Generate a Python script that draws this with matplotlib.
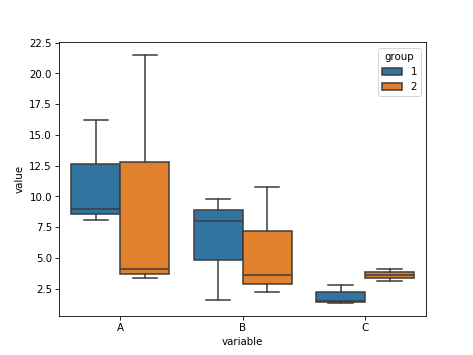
import matplotlib
matplotlib.use("Agg")
import matplotlib.pyplot as plt
from matplotlib.patches import Patch

categories = ["A", "B", "C"]
groups = ["1", "2"]

# box statistics per group, per category (A, B, C)
g1_whislo = [8.1, 1.6, 1.3]
g1_q1 = [8.55, 4.85, 1.42]
g1_med = [9.0, 8.0, 1.48]
g1_q3 = [12.6, 8.9, 2.23]
g1_whishi = [16.2, 9.8, 2.83]

g2_whislo = [3.35, 2.2, 3.13]
g2_q1 = [3.7, 2.9, 3.35]
g2_med = [4.1, 3.62, 3.62]
g2_q3 = [12.8, 7.2, 3.86]
g2_whishi = [21.5, 10.8, 4.1]

colors = ["#3274a1", "#e1812c"]
line_c = "#3d3d3d"

fig, ax = plt.subplots(figsize=(6.4, 4.8), dpi=74)

series = [
    (g1_whislo, g1_q1, g1_med, g1_q3, g1_whishi),
    (g2_whislo, g2_q1, g2_med, g2_q3, g2_whishi),
]
offsets = [-0.2, 0.2]
for gi, (wl, q1, med, q3, wh) in enumerate(series):
    stats = []
    for i in range(len(categories)):
        stats.append(dict(whislo=wl[i], q1=q1[i], med=med[i], q3=q3[i],
                          whishi=wh[i], fliers=[]))
    pos = [i + offsets[gi] for i in range(len(categories))]
    ax.bxp(stats, positions=pos, widths=0.4, patch_artist=True,
           showfliers=False, manage_ticks=False,
           boxprops=dict(facecolor=colors[gi], edgecolor=line_c, linewidth=1.5),
           whiskerprops=dict(color=line_c, linewidth=1.5),
           capprops=dict(color=line_c, linewidth=1.5),
           medianprops=dict(color=line_c, linewidth=1.5))

ax.set_xlim(-0.5, len(categories) - 0.5)
ax.set_xticks(range(len(categories)))
ax.set_xticklabels(categories)
ax.set_yticks([2.5, 5.0, 7.5, 10.0, 12.5, 15.0, 17.5, 20.0, 22.5])
ax.set_xlabel("variable")
ax.set_ylabel("value")

handles = [Patch(facecolor=colors[i], edgecolor=line_c, linewidth=1.5, label=groups[i])
           for i in range(len(groups))]
ax.legend(handles=handles, title="group", loc="upper right")

fig.savefig("out.png", dpi=74)
